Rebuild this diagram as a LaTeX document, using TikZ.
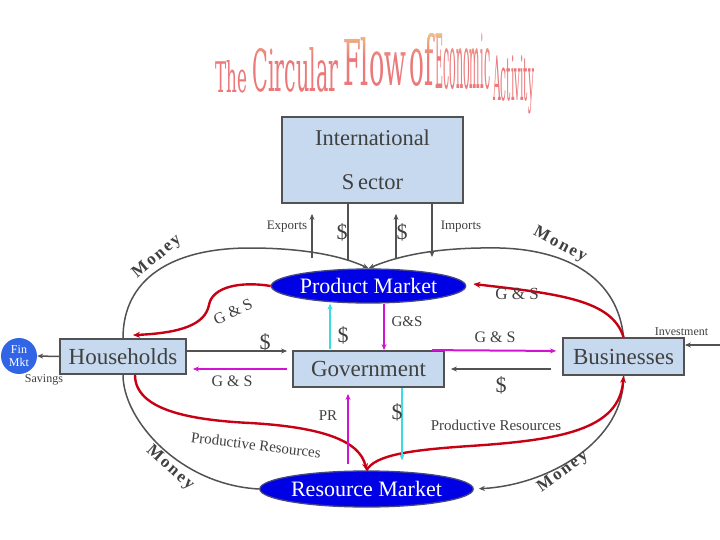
\documentclass[tikz,border=0pt]{standalone}
\usepackage{fontspec}
\setmainfont{Liberation Serif}
\newfontfamily\titlefont{DejaVu Serif}
\usepackage{graphicx}
\usetikzlibrary{arrows.meta,shapes.geometric,calc}
\definecolor{boxfill}{RGB}{198,217,238}
\definecolor{edge}{RGB}{82,82,82}
\definecolor{txt}{RGB}{64,64,64}
\definecolor{mktblue}{RGB}{0,0,228}
\definecolor{mktedge}{RGB}{70,70,130}
\definecolor{flowred}{RGB}{200,0,20}
\definecolor{flowmag}{RGB}{210,20,210}
\definecolor{flowcyan}{RGB}{60,220,230}
\definecolor{finblue}{RGB}{50,100,230}
\definecolor{titlecol}{RGB}{236,120,122}
\definecolor{titletop}{RGB}{252,208,140}
\definecolor{titlemid}{RGB}{215,160,100}
\begin{document}
\begin{tikzpicture}[x=1pt,y=-1pt,
  every node/.style={text=txt},
  box/.style={draw=edge,line width=1.8pt,fill=boxfill,inner sep=0pt,font=\fontsize{23}{23}\selectfont},
  mkt/.style={ellipse,draw=mktedge,line width=1.3pt,fill=mktblue,text=white,inner sep=0pt,font=\fontsize{22}{22}\selectfont},
  tip/.style={-{Stealth[length=6pt,width=5pt]}},
  gline/.style={draw=edge,line width=1.5pt},
  garrow/.style={gline,tip},
  rarrow/.style={draw=flowred,line width=2.4pt,-{Stealth[length=7pt,width=6pt]}},
  marrow/.style={draw=flowmag,line width=2pt,tip},
  carrow/.style={draw=flowcyan,line width=2.4pt,tip},
  lab/.style={inner sep=0pt,font=\fontsize{16}{16}\selectfont},
  dollar/.style={inner sep=0pt,font=\fontsize{22}{22}\selectfont},
  money/.style={inner sep=0pt,font=\fontsize{17}{17}\selectfont\bfseries\addfontfeature{LetterSpace=12}},
  small/.style={inner sep=0pt,font=\fontsize{13}{13}\selectfont},
  prlab/.style={inner sep=0pt,font=\fontsize{15}{15}\selectfont},
  tword/.style={anchor=base west,inner sep=0pt,text=titlecol,font=\titlefont},
]
\useasboundingbox (0,0) rectangle (720,540);
\fill[white] (0,0) rectangle (720,540);

% title
\node[tword] (t1) at (215,93) {\resizebox{32pt}{32pt}{The}};
\node[tword] (t2) at (252,92) {\resizebox{86pt}{44pt}{Circular}};
\node[tword] (t3) at (343,86) {\resizebox{63pt}{48pt}{Flow}};
\node[tword] (t4) at (409,86) {\resizebox{24pt}{52pt}{of}};
\node[tword] (t5) at (435,89) {\resizebox{55pt}{55pt}{Economic}};
\node[tword] (t6) at (493,101) {\resizebox{41pt}{45pt}{Activity}};
\begin{scope}[blend mode=lighten]
\shade[top color=titletop,middle color=titlemid,bottom color=black] (205,28) rectangle (545,100);
\end{scope}

% main nodes
\node[box,minimum width=181pt,minimum height=86pt,align=center,font=\fontsize{22.5}{44}\selectfont] (intl) at (372.5,160) {International\\S\,ector};
\node[box,minimum width=126pt,minimum height=35pt] (hh) at (123,356.5) {Households};
\node[box,minimum width=151pt,minimum height=36pt] (gov) at (368.5,369) {Government};
\node[box,minimum width=121pt,minimum height=37pt] (biz) at (623.5,356.5) {Businesses};
\node[mkt,minimum width=163pt,minimum height=34pt] (pm) at (368.5,286) {Product Market};
\node[mkt,minimum width=181pt,minimum height=36pt] (rm) at (366.5,489) {Resource Market};
\node[circle,fill=finblue,minimum size=36pt,inner sep=0pt,text=white,align=center,font=\fontsize{12}{13}\selectfont] (fin) at (19,356) {Fin\\Mkt};

% money loops
\draw[garrow] (hh.north) .. controls (123,280) and (170,248) .. (250,248) .. controls (300,248) and (340,255) .. (pm.north);
\draw[garrow] (biz.north) .. controls (618,280) and (570,250) .. (500,248) .. controls (440,247) and (400,255) .. (pm.north);
\draw[gline] (hh.south) .. controls (123,420) and (180,485) .. (rm.west);
\draw[garrow,shorten >=5pt] (biz.south) .. controls (625,440) and (550,485) .. (rm.east);

% goods and resources loops
\draw[rarrow] (pm.west) .. controls (240,281) and (212,287) .. (209,305) .. controls (205,325) and (180,333) .. ($(hh.north)+(10,-3)$);
\draw[rarrow] (biz.north) .. controls (612,300) and (560,294) .. ($(pm.east)+(7,-2)$);
\draw[rarrow] ($(hh.south)+(12,0)$) .. controls (135,410) and (190,420) .. (250,423) .. controls (320,427) and (360,440) .. (rm.north);
\draw[rarrow] (rm.north) .. controls (375,455) and (410,450) .. (470,446) .. controls (560,440) and (620,430) .. (biz.south);

% international sector
\coordinate (ex) at (312,258);
\coordinate (dl) at (348,261);
\coordinate (dr) at (396,259);
\coordinate (im) at (432,257);
\draw[garrow,shorten >=10pt] (ex) -- (intl.south -| ex);
\draw[gline] (intl.south -| dl) -- (dl);
\draw[garrow,shorten >=10pt] (dr) -- (intl.south -| dr);
\draw[garrow] (intl.south -| im) -- (im);

% government flows
\draw[garrow,shorten >=5pt] (hh.east |- 0,351) -- (gov.west |- 0,351);
\draw[marrow,shorten <=5pt,shorten >=6pt] (gov.west |- 0,369) -- (hh.east |- 0,369);
\draw[marrow] (pm.south -| 384,0) -- (gov.north -| 384,0);
\draw[carrow,shorten <=1pt] (gov.north -| 330,0) -- (pm.south -| 330,0);
\draw[marrow,shorten >=6pt] (gov.north -| 432,0) -- (biz.west |- 0,351);
\draw[garrow,shorten <=11pt,shorten >=6pt] (biz.west |- 0,369) -- (gov.east |- 0,369);
\draw[carrow,shorten >=10pt] (gov.south -| 402,0) -- (rm.north -| 402,0);
\draw[marrow,shorten <=6pt,shorten >=6pt] (rm.north -| 348,0) -- (gov.south -| 348,0);

% savings and investment
\draw[garrow] (hh.west) -- (fin.east);
\coordinate (inv) at (720,345);
\draw[garrow] (inv) -- (biz.east |- inv);

% labels
\node[small] (lex) at (287,227) {Exports};
\node[small] (lim) at (461,227) {Imports};
\node[dollar] (d1) at (342,232) {\$};
\node[dollar] (d2) at (402,232) {\$};
\node[money,rotate=40] (m1) at (157,257) {Money};
\node[money,rotate=-28] (m2) at (560,245) {Money};
\node[money,rotate=-42] (m3) at (170,468) {Money};
\node[money,rotate=36] (m4) at (563,472) {Money};
\node[lab,rotate=25] (g1) at (233,312) {G \& S};
\node[lab,font=\fontsize{17}{17}\selectfont] (g2) at (517,294) {G \& S};
\node[dollar] (d3) at (265,342) {\$};
\node[lab] (g3) at (232,381) {G \& S};
\node[dollar] (d4) at (343,335) {\$};
\node[lab,font=\fontsize{15}{15}\selectfont] (g4) at (407,322) {G\&S};
\node[lab] (g5) at (495,337) {G \& S};
\node[dollar] (d5) at (501,385) {\$};
\node[dollar] (d6) at (397,412) {\$};
\node[prlab] (pr) at (328,416) {PR};
\node[prlab,rotate=-7] (pr1) at (256,445) {Productive Resources};
\node[prlab] (pr2) at (496,425) {Productive Resources};
\node[inner sep=0pt,font=\fontsize{12}{12}\selectfont] (linv) at (681.5,332) {Investment};
\node[inner sep=0pt,font=\fontsize{12}{12}\selectfont] (lsav) at (44,380) {Savings};
\end{tikzpicture}
\end{document}
